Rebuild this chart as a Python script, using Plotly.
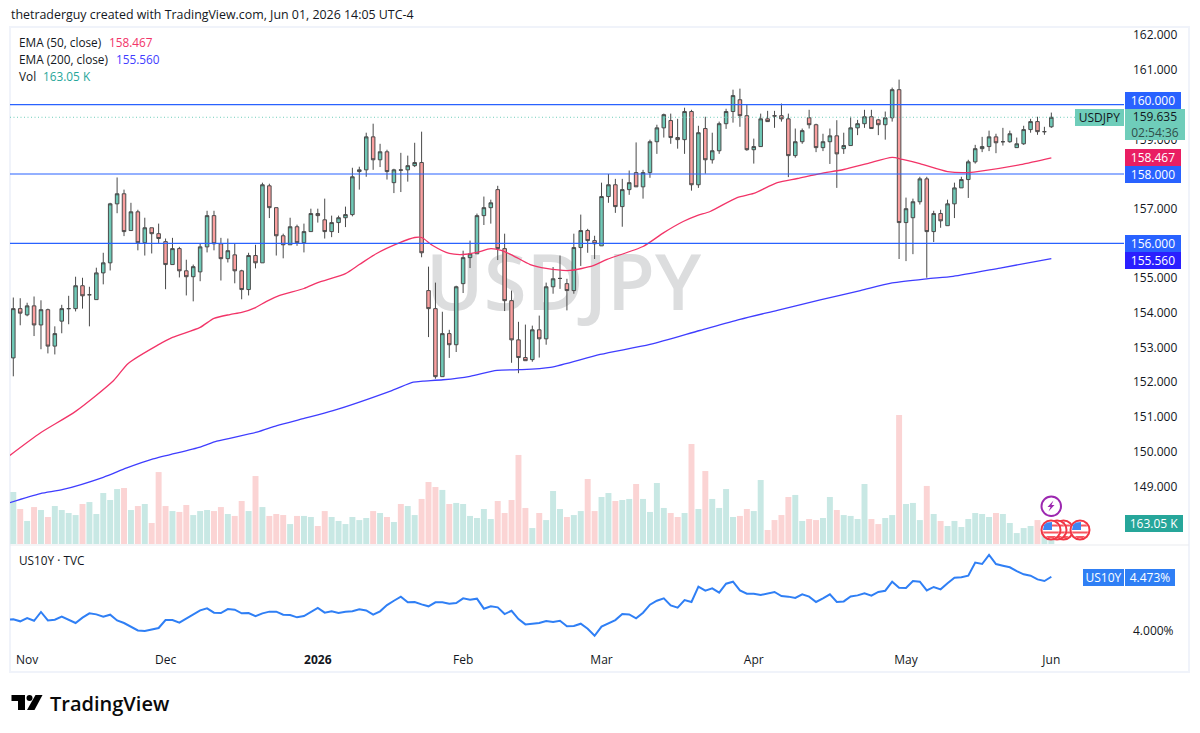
import plotly.graph_objects as go

W, H = 1200, 733

opens = [152.70,154.12,153.94,154.20,153.65,154.09,153.04,153.76,154.12,154.12,
         154.78,154.52,154.38,155.15,155.44,157.14,157.43,156.37,156.91,156.02,
         156.45,156.28,156.05,155.39,155.85,155.21,155.04,155.18,155.90,156.80,
         155.99,155.56,155.67,155.21,154.67,155.65,155.44,157.66,157.03,156.22,
         155.96,156.48,156.02,156.34,156.86,156.68,156.34,156.60,156.74,156.83,
         158.07,158.12,159.07,158.41,158.64,157.75,158.12,158.12,158.24,158.33,
         154.64,154.12,152.16,153.40,153.08,154.84,155.59,155.70,156.80,157.03,
         157.55,155.85,154.35,153.22,152.71,152.65,153.51,153.25,154.75,154.99,
         154.84,154.64,155.88,156.37,156.08,155.93,157.35,157.69,157.06,157.55,
         158.04,157.63,158.04,158.93,159.33,159.54,159.05,158.99,159.80,157.69,
         159.31,158.41,158.67,159.45,159.80,160.14,159.68,158.70,158.79,159.59,
         159.68,159.68,159.59,158.53,158.93,159.62,159.42,158.76,158.93,159.10,
         158.73,158.82,159.33,159.45,159.65,159.56,159.42,159.62,160.43,156.60,
         156.74,157.20,157.86,156.34,156.86,156.51,157.14,157.60,157.84,158.35,
         158.73,158.79,159.07,158.93,158.93,158.76,158.87,159.28,159.51,159.22,
         159.36]
highs = [154.44,154.42,154.29,154.47,154.36,154.12,153.61,154.23,154.49,155.04,
         155.01,154.75,155.30,155.73,157.17,157.90,157.55,157.17,156.97,156.74,
         156.45,156.57,156.14,156.16,155.90,155.53,155.39,155.99,156.94,156.94,
         156.16,156.14,155.99,155.24,155.73,155.96,157.75,157.72,157.03,156.28,
         156.74,156.54,156.57,157.00,157.00,157.29,156.80,156.80,157.06,158.18,
         158.21,159.19,159.45,158.87,158.70,158.15,158.61,158.53,158.90,159.22,
         155.33,154.87,154.03,153.51,154.78,155.79,156.08,156.86,157.35,157.26,
         157.66,156.28,154.64,153.74,153.66,153.63,153.92,154.87,155.32,155.65,
         154.98,156.28,156.83,156.42,156.22,157.75,158.00,157.86,157.86,158.10,
         158.91,158.12,158.99,159.42,159.74,159.74,159.59,159.91,159.85,159.39,
         159.65,159.19,159.51,159.88,160.43,160.46,160.00,159.02,159.74,159.82,
         159.82,160.03,159.74,159.31,159.31,159.85,159.45,159.16,159.31,159.55,
         159.19,159.65,159.56,159.85,159.85,159.59,159.80,160.49,160.72,157.32,
         157.29,157.92,157.92,156.94,156.97,157.26,157.75,157.92,158.41,158.84,
         159.07,159.25,159.16,159.33,159.25,159.05,159.39,159.59,159.65,159.36,
         159.77]
lows = [152.17,153.64,153.90,153.33,152.95,152.83,152.80,153.41,153.67,154.04,
        154.12,153.61,154.38,154.82,155.22,156.87,156.21,156.37,155.80,155.65,
        155.71,155.99,154.68,155.39,155.02,154.50,154.33,154.91,155.74,155.80,
        154.93,155.45,154.85,154.39,154.50,155.28,155.44,156.73,155.65,155.57,
        155.96,155.93,155.74,156.34,156.60,156.14,156.18,156.30,156.47,156.78,
        157.55,157.92,158.12,158.20,157.84,157.45,157.48,157.78,158.20,155.60,
        153.30,152.10,152.16,152.70,152.87,154.57,155.29,155.70,156.53,156.57,
        155.52,154.05,152.56,152.26,152.62,152.59,152.71,153.08,154.55,154.69,
        154.07,154.55,155.35,155.73,155.55,155.93,157.17,156.88,156.48,157.40,
        157.63,157.29,157.89,158.58,159.05,158.87,158.73,158.58,157.52,157.60,
        158.01,158.30,158.58,159.30,159.48,159.36,158.67,158.30,158.78,159.50,
        159.33,159.51,157.91,158.47,158.87,159.31,158.63,158.66,158.29,157.60,
        158.58,158.82,159.12,159.33,159.31,159.12,158.99,159.51,155.55,155.49,
        155.69,157.12,155.01,156.04,156.45,156.51,156.73,157.60,157.31,158.30,
        158.63,158.66,158.60,158.82,158.90,158.76,158.84,159.19,159.13,159.13,
        159.33]
closes = [154.12,153.99,154.20,153.65,154.09,153.04,153.40,154.12,154.12,154.78,
          154.49,154.52,155.15,155.44,157.14,157.43,156.34,156.91,156.02,156.45,
          156.28,156.14,155.39,155.85,155.21,155.04,155.33,155.90,156.80,155.99,
          155.56,155.79,155.21,154.67,155.65,155.44,157.69,157.03,156.22,155.96,
          156.48,156.02,156.34,156.86,156.80,156.34,156.60,156.74,156.83,157.92,
          158.12,159.07,158.41,158.64,158.07,158.12,158.11,158.24,158.33,155.73,
          154.12,152.16,153.40,153.08,154.75,155.59,155.70,156.80,157.03,157.17,
          155.85,154.35,153.22,152.71,152.62,153.51,153.25,154.75,154.98,154.99,
          154.64,155.88,156.37,156.08,155.99,157.35,157.69,157.06,157.55,157.75,
          157.63,158.04,158.93,159.33,159.71,159.05,158.99,159.80,157.69,159.19,
          158.41,158.67,159.45,159.80,160.26,159.68,158.70,158.79,159.59,159.51,
          159.67,159.59,158.53,158.93,159.25,159.42,158.76,158.93,159.10,158.58,
          158.82,159.33,159.45,159.65,159.31,159.42,159.62,160.43,156.60,157.00,
          157.20,157.86,156.34,156.86,156.65,157.14,157.60,157.84,158.35,158.73,
          158.79,159.07,158.90,158.93,159.16,158.87,159.28,159.51,159.22,159.22,
          159.635]
volumes_k = [404,272,179,287,264,210,295,264,241,225,311,326,233,396,342,427,435,264,295,311,
             163,559,295,256,249,303,225,256,264,256,287,233,218,334,256,528,287,218,233,225,
             155,218,218,210,140,256,210,179,155,210,186,202,256,241,210,171,311,295,225,350,
             482,443,420,311,319,311,218,202,272,194,334,241,342,692,280,124,241,186,412,272,
             210,225,256,505,256,365,396,334,342,350,466,350,249,474,280,241,210,241,777,272,
             567,350,280,427,210,218,272,256,497,109,186,225,365,381,179,194,186,202,365,264,
             225,218,194,466,194,155,202,225,1002,311,319,186,451,233,179,140,179,132,194,241,
             233,210,241,233,163,85,124,140,186,135,163.05]
# First value is the session before the window, so the line runs in from the pane edge
yields = [4.095,
          4.098,4.081,4.110,4.086,4.163,4.089,4.095,4.122,4.095,4.066,4.113,4.151,4.142,4.122,4.139,
          4.089,4.066,4.031,4.001,3.996,4.007,4.022,4.092,4.092,4.069,4.107,4.145,4.177,4.195,4.157,
          4.154,4.189,4.183,4.151,4.154,4.127,4.151,4.166,4.166,4.139,4.136,4.116,4.127,4.166,4.198,
          4.157,4.169,4.154,4.166,4.169,4.186,4.177,4.139,4.169,4.224,4.262,4.298,4.248,4.251,4.230,
          4.213,4.248,4.248,4.236,4.242,4.283,4.271,4.280,4.192,4.213,4.204,4.145,4.174,4.101,4.054,
          4.060,4.066,4.084,4.075,4.086,4.037,4.040,4.060,4.016,3.954,4.034,4.063,4.092,4.145,4.142,
          4.107,4.157,4.227,4.262,4.283,4.221,4.201,4.268,4.251,4.386,4.350,4.371,4.333,4.412,4.429,
          4.353,4.324,4.324,4.312,4.324,4.339,4.303,4.298,4.286,4.318,4.298,4.251,4.283,4.318,4.251,
          4.256,4.300,4.309,4.327,4.306,4.339,4.350,4.429,4.377,4.374,4.435,4.429,4.353,4.383,4.362,
          4.415,4.465,4.468,4.482,4.597,4.585,4.664,4.585,4.570,4.556,4.523,4.494,4.482,4.450,4.435,
          4.473]

ema50_sessions = [-0.5,4,9,14.5,16.6,20.8,23,27,29,31.3,33,35,36.6,38.5,42,44,48,50,52.5,55.6,58,59,
                  60.6,63,65,67,69,70.5,72.2,74.7,77,80.4,83.8,85.8,91,94,96.8,98.8,100.7,104.6,107,
                  110.4,113.3,116.6,120,123.4,127,128.5,131,135,137.8,139.3,145.5,150]
ema50 = [149.89,150.55,151.16,152.05,152.54,153.06,153.29,153.58,153.84,153.95,154.01,154.15,154.33,154.50,
         154.70,154.87,155.13,155.39,155.71,156.00,156.17,156.17,155.94,155.71,155.68,155.74,155.85,155.80,
         155.65,155.39,155.28,155.22,155.36,155.54,155.91,156.31,156.63,156.80,156.92,157.32,157.44,157.75,
         157.87,158.01,158.13,158.30,158.48,158.42,158.30,158.07,158.04,158.07,158.27,158.467]
ema200_sessions = [-0.5,3.9,7.2,13,16.4,20.2,27,29.4,35.2,38.1,41.9,46.2,54.7,57.8,59.2,62.1,66,69.9,73.2,
                   77.6,84.8,92,99.2,105,110.4,116.6,122.4,127,132,135.8,142.6,150]
ema200 = [148.53,148.79,148.91,149.26,149.53,149.79,150.13,150.30,150.56,150.75,150.95,151.18,151.76,152.00,
          152.03,152.07,152.17,152.34,152.36,152.43,152.80,153.09,153.49,153.81,154.07,154.37,154.64,154.86,
          154.98,155.05,155.29,155.56]

key_levels = [160.0, 158.0, 156.0]
last_price = 159.635
# Key levels carry their own tags on the price scale instead of plain tick labels
price_ticks = [p for p in range(149, 163) if p not in key_levels]
month_sessions = [2, 22, 44, 65, 85, 107, 129, 150]
month_labels = ["Nov", "Dec", "<b>2026</b>", "Feb", "Mar", "Apr", "May", "Jun"]

FONT = "Open Sans"
INK = "#131722"
UP_FILL, DOWN_FILL = "#6fc9b7", "#fa9f9f"
VOL_UP, VOL_DOWN = "#c8e8e4", "#fbd4d4"
LEVEL = "#2962ff"
EMA50_COL, EMA200_COL = "#f23468", "#3f3dff"
YIELD_COL = "#2f7ff5"
CURRENT = "#6fcdba"

sessions = list(range(len(closes)))
yield_sessions = list(range(-1, len(closes)))


def px_x(v):
    return v / W


def px_y(v):
    return 1 - v / H


fig = go.Figure()

# Watermark sits in the base subplot so every series draws on top of it
fig.add_trace(go.Scatter(x=[79.5], y=[0.49], mode="text", text=["USDJPY"],
                         textfont=dict(family=FONT, size=78, color="#dcddde", weight=600),
                         xaxis="x", yaxis="y", hoverinfo="skip"))

fig.add_trace(go.Bar(x=sessions, y=volumes_k, width=0.86, xaxis="x", yaxis="y2",
                     marker=dict(color=[VOL_UP if c >= o else VOL_DOWN for o, c in zip(opens, closes)],
                                 line=dict(width=0))))

fig.add_trace(go.Candlestick(x=sessions, open=opens, high=highs, low=lows, close=closes,
                             xaxis="x", yaxis="y3", whiskerwidth=0,
                             increasing=dict(fillcolor=UP_FILL, line=dict(color="#4a4a4a", width=1)),
                             decreasing=dict(fillcolor=DOWN_FILL, line=dict(color="#4a4a4a", width=1))))

fig.add_trace(go.Scatter(x=ema50_sessions, y=ema50, mode="lines", xaxis="x", yaxis="y3",
                         line=dict(color=EMA50_COL, width=1.3, shape="spline", smoothing=0.7)))
fig.add_trace(go.Scatter(x=ema200_sessions, y=ema200, mode="lines", xaxis="x", yaxis="y3",
                         line=dict(color=EMA200_COL, width=1.3, shape="spline", smoothing=0.7)))
fig.add_trace(go.Scatter(x=yield_sessions, y=yields, mode="lines", xaxis="x", yaxis="y4",
                         line=dict(color=YIELD_COL, width=2)))

shapes = []

# Outer frame around both panes
shapes.append(dict(type="rect", xref="paper", yref="paper", x0=px_x(10), x1=px_x(1189),
                   y0=px_y(672), y1=px_y(27), line=dict(color="#f0f3fa", width=2), layer="below"))
# Pane separator
shapes.append(dict(type="line", xref="paper", yref="paper", x0=px_x(10), x1=px_x(1189),
                   y0=px_y(545), y1=px_y(545), line=dict(color="#e9ebef", width=1)))

for level in key_levels:
    shapes.append(dict(type="line", xref="x domain", yref="y3", x0=0, x1=1, y0=level, y1=level,
                       line=dict(color=LEVEL, width=1.1)))
shapes.append(dict(type="line", xref="x domain", yref="y3", x0=0, x1=1, y0=last_price, y1=last_price,
                   line=dict(color=CURRENT, width=1, dash="1px,2.5px")))


def poly(points, **kw):
    path = "M" + " L".join(f"{px_x(x):.5f},{px_y(y):.5f}" for x, y in points) + " Z"
    return dict(type="path", xref="paper", yref="paper", path=path, **kw)


def flag(cx, cy):
    r = 9.5
    red = dict(fillcolor="#f7555f", line=dict(width=0))
    out = [dict(type="circle", xref="paper", yref="paper", x0=px_x(cx - r), x1=px_x(cx + r),
                y0=px_y(cy + r), y1=px_y(cy - r), fillcolor="#ffffff",
                line=dict(color="#f23645", width=2))]
    out.append(poly([(cx + 1, cy - 5.5), (cx + 6, cy - 5.5), (cx + 7.5, cy - 3.5), (cx + 1, cy - 3.5)], **red))
    out.append(poly([(cx - 8, cy + 1.5), (cx + 8, cy + 1.5), (cx + 7.5, cy + 3.5), (cx - 7.5, cy + 3.5)], **red))
    out.append(poly([(cx - 5, cy + 6), (cx + 5, cy + 6), (cx + 3, cy + 8), (cx - 3, cy + 8)], **red))
    out.append(poly([(cx - 8, cy), (cx - 7, cy - 5), (cx - 4, cy - 7.5), (cx + 1, cy - 8), (cx + 1, cy)],
                    fillcolor="#3f86f2", line=dict(width=0)))
    return out


for fx in (1063.5, 1080, 1057, 1051):
    shapes.extend(flag(fx, 530))

# Lightning marker above the flags
shapes.append(dict(type="circle", xref="paper", yref="paper", x0=px_x(1041.5), x1=px_x(1061),
                   y0=px_y(516), y1=px_y(496.5), fillcolor="#ffffff", line=dict(color="#9c27b0", width=2)))
shapes.append(poly([(1053.5, 500.5), (1047.5, 507), (1050.5, 507), (1048.5, 511.5), (1054.5, 505),
                    (1051.5, 505)], fillcolor="#9c27b0", line=dict(width=0)))

# TradingView mark
shapes.append(poly([(11.5, 695), (25, 695), (25, 710), (18, 710), (18, 701), (11.5, 701)],
                   fillcolor="#000000", line=dict(width=0)))
shapes.append(dict(type="circle", xref="paper", yref="paper", x0=px_x(26.5), x1=px_x(32.5),
                   y0=px_y(701), y1=px_y(695), fillcolor="#000000", line=dict(width=0)))
shapes.append(poly([(35.5, 695), (42.5, 695), (34.5, 710), (27, 710)], fillcolor="#000000", line=dict(width=0)))

annotations = []


def label(text, x, y, color=INK, size=12, anchor="left", **font):
    annotations.append(dict(text=text, xref="paper", yref="paper", x=px_x(x), y=px_y(y), showarrow=False,
                            xanchor=anchor, yanchor="middle", borderpad=0,
                            font=dict(family=FONT, size=size, color=color, **font)))


def tag(text, x0, x1, y0, y1, bg, color="#ffffff"):
    annotations.append(dict(text=text, xref="paper", yref="paper", x=px_x((x0 + x1) / 2), y=px_y((y0 + y1) / 2),
                            showarrow=False, xanchor="center", yanchor="middle", width=x1 - x0, height=y1 - y0,
                            align="center", valign="middle", bgcolor=bg, borderpad=0, borderwidth=0,
                            font=dict(family=FONT, size=12, color=color)))


label("thetraderguy created with TradingView.com, Jun 01, 2026 14:05 UTC-4", 9.5, 15, size=12.4)
label("EMA (50, close)", 17.5, 42, size=11.8)
label(f"{ema50[-1]:.3f}", 108, 42, color=EMA50_COL, size=11.8)
label("EMA (200, close)", 17.5, 59, size=11.8)
label(f"{ema200[-1]:.3f}", 115, 59, color=EMA200_COL, size=11.8)
label("Vol", 17.5, 76, size=11.8)
label(f"{volumes_k[-1]:.2f} K", 42, 76, color="#26a69a", size=11.8)
label("US10Y · TVC", 17.5, 559.5, size=11.8)
label("TradingView", 49, 703, color="#0a0a0a", size=20, weight=600)

tag(f"{key_levels[0]:.3f}", 1125, 1181, 92, 108.5, LEVEL)
tag(f"{last_price:.3f}<br><span style='color:#2f4f4a'>02:54:36</span>", 1125, 1185, 109, 140, CURRENT, INK)
tag("USDJPY", 1075, 1124, 109, 125.5, CURRENT, INK)
tag(f"{ema50[-1]:.3f}", 1125, 1181, 149.5, 166, "#e91e63")
tag(f"{key_levels[1]:.3f}", 1125, 1181, 166, 182.5, LEVEL)
tag(f"{key_levels[2]:.3f}", 1125, 1181, 235, 252, LEVEL)
tag(f"{ema200[-1]:.3f}", 1125, 1181, 252, 268.5, "#2a1fff")
tag(f"{volumes_k[-1]:.2f} K", 1125, 1183, 515, 531.5, "#26a69a")
tag("US10Y", 1083, 1124, 569, 585.5, YIELD_COL)
tag(f"{yields[-1]:.3f}%", 1125, 1175, 569, 585.5, YIELD_COL)

TOP, MAIN_BOTTOM, PANE_TOP, PANE_BOTTOM = 27, 544, 545, 651
PX_PER_UNIT = 34.7
LEVEL_156_PX = 243.4
price_low = 156 - (MAIN_BOTTOM - LEVEL_156_PX) / PX_PER_UNIT
price_high = 156 + (LEVEL_156_PX - TOP) / PX_PER_UNIT

hidden = dict(visible=False, showgrid=False, zeroline=False, fixedrange=True)
fig.update_layout(
    width=W, height=H, autosize=False, margin=dict(l=0, r=0, t=0, b=0),
    paper_bgcolor="#ffffff", plot_bgcolor="#ffffff", showlegend=False, hovermode=False,
    font=dict(family=FONT, size=12, color=INK),
    boxgap=0.27,
    shapes=shapes, annotations=annotations,
    xaxis=dict(domain=[px_x(10), px_x(1124)], range=[-0.477, 160.5], anchor="y4",
               tickmode="array", tickvals=month_sessions, ticktext=month_labels,
               tickfont=dict(family=FONT, size=12, color=INK), ticks="", showgrid=False, zeroline=False,
               showline=False, rangeslider=dict(visible=False), fixedrange=True),
    yaxis=dict(domain=[px_y(MAIN_BOTTOM), px_y(TOP)], range=[0, 1], anchor="x", **hidden),
    yaxis2=dict(overlaying="y", range=[0, 4017], anchor="x", **hidden),
    yaxis3=dict(overlaying="y", side="right", anchor="x", range=[price_low, price_high],
                tickmode="array", tickvals=price_ticks, tickformat=".3f", ticks="", ticklabelstandoff=8,
                tickfont=dict(family=FONT, size=12, color=INK), showgrid=False, zeroline=False,
                showline=False, fixedrange=True),
    yaxis4=dict(domain=[px_y(PANE_BOTTOM), px_y(PANE_TOP)], side="right", anchor="x", range=[3.82, 4.752],
                tickmode="array", tickvals=[4], ticktext=["4.000%"], ticks="", ticklabelstandoff=8,
                tickfont=dict(family=FONT, size=12, color=INK), showgrid=False, zeroline=False,
                showline=False, fixedrange=True),
)

fig.write_html("out.html", config=dict(displayModeBar=False))
